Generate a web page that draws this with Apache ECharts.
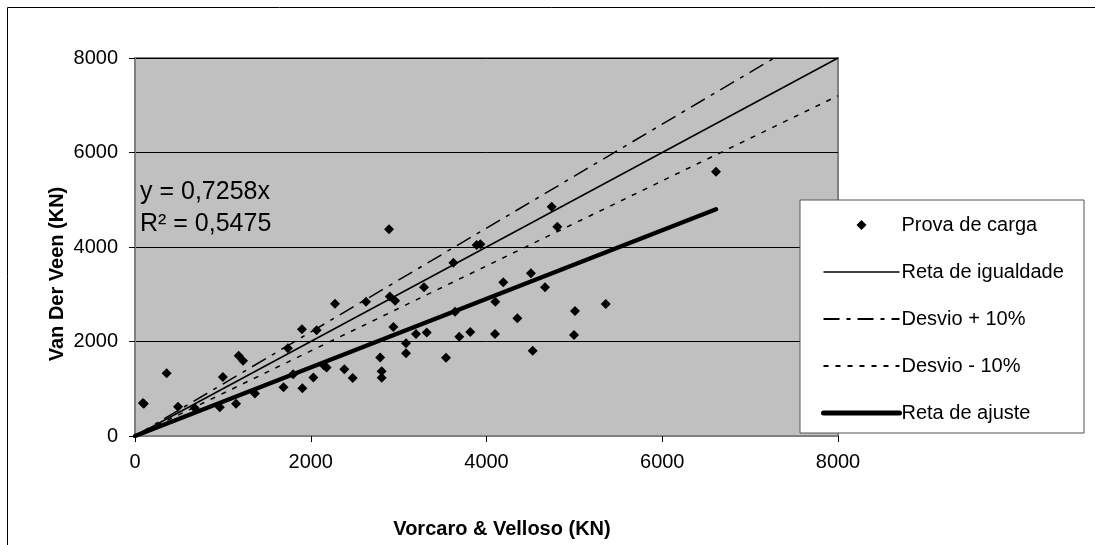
<!DOCTYPE html>
<html>
<head>
<meta charset="utf-8">
<script src="https://cdn.jsdelivr.net/npm/echarts@6/dist/echarts.min.js"></script>
<style>html,body{margin:0;padding:0;background:#fff;}#c{width:1095px;height:545px;}</style>
</head>
<body>
<div id="c"></div>
<script>
// Vorcaro & Velloso (KN) vs Van Der Veen (KN)
const vvX = [90,100,360,490,680,965,1000,1150,1180,1230,1365,1690,1740,1800,1900,1905,2067,2030,2150,2180,2276,2382,2477,2629,2790,2807,2807,2900,2960,2891,2940,3084,3084,3198,3289,3320,3539,3623,3642,3690,3815,3888,3930,4100,4097,4191,4351,4506,4526,4666,4742,4806,5007,4996,5357,6612];
const vdvY = [700,680,1330,620,590,610,1250,680,1700,1590,900,1030,1856,1305,2258,1009,2240,1238,1490,1450,2800,1411,1225,2842,1660,1370,1234,2950,2860,4374,2305,1961,1750,2160,3146,2190,1657,3667,2630,2101,2200,4042,4060,2842,2158,3252,2490,3443,1805,3146,4852,4429,2645,2137,2793,5593];
const lineEquality = [[0,0],[8000,8000]];
const linePlus10 = [[0,0],[7273,8000]];
const lineMinus10 = [[0,0],[8000,7200]];
const lineFit = [[0,0],[6612,4799]];
const xTicks = [0,2000,4000,6000,8000];
const yTicks = [0,2000,4000,6000,8000];
const seriesNames = ['Prova de carga','Reta de igualdade','Desvio + 10%','Desvio - 10%','Reta de ajuste'];

const FONT = "'Liberation Sans', Arial, sans-serif";
const chart = echarts.init(document.getElementById('c'), null, {renderer:'canvas'});
const pts = vvX.map((x,i)=>[x, vdvY[i]]);
const hideSym = {opacity:0};
chart.setOption({
  animation:false,
  backgroundColor:'#fff',
  textStyle:{fontFamily:FONT},
  grid:{left:135, top:58, width:703, height:378, show:true, backgroundColor:'#C0C0C0', borderColor:'#808080', borderWidth:2, containLabel:false},
  xAxis:{type:'value', min:xTicks[0], max:xTicks[xTicks.length-1], interval:2000,
    axisLine:{show:true, lineStyle:{color:'#808080', width:2}},
    axisTick:{show:true, length:6, lineStyle:{color:'#000', width:1}},
    axisLabel:{fontSize:20, color:'#000', margin:16, fontFamily:FONT, formatter:v=>String(v)},
    splitLine:{show:false}},
  yAxis:{type:'value', min:yTicks[0], max:yTicks[yTicks.length-1], interval:2000,
    axisLine:{show:true, lineStyle:{color:'#808080', width:2}},
    axisTick:{show:true, length:6, lineStyle:{color:'#000', width:1}},
    axisLabel:{fontSize:20, color:'#000', margin:17, fontFamily:FONT, formatter:v=>String(v)},
    splitLine:{show:true, lineStyle:{color:'#000', width:1}}},
  legend:{orient:'vertical', left:821, top:213, padding:0, itemGap:23, itemWidth:76, itemHeight:10, z:10,
    symbolKeepAspect:true,
    data:[
      {name:seriesNames[0], icon:'path://M33,5L38,0L43,5L38,10ZM0,0M76,10', itemStyle:{color:'#000', opacity:1}},
      {name:seriesNames[1], itemStyle:hideSym, lineStyle:{width:1.5}},
      {name:seriesNames[2], itemStyle:hideSym, lineStyle:{width:2}},
      {name:seriesNames[3], itemStyle:hideSym, lineStyle:{width:2}},
      {name:seriesNames[4], itemStyle:hideSym, lineStyle:{width:5}}
    ],
    textStyle:{fontSize:20, lineHeight:24, color:'#000', fontFamily:FONT, padding:[0,0,0,-3]}},
  graphic:[
    {type:'rect', z:9, shape:{x:800, y:200, width:284, height:233}, style:{fill:'#fff', stroke:'#555', lineWidth:1}},
    {type:'rect', z:0, silent:true, shape:{x:7.5, y:7.5, width:1200, height:700}, style:{fill:'none', stroke:'#000', lineWidth:1}},
    {type:'text', z:8, style:{x:140, y:192, text:'y = 0,7258x', font:"25px 'Liberation Sans', Arial", fill:'#000', verticalAlign:'middle'}},
    {type:'text', z:8, style:{x:140, y:224, text:'R² = 0,5475', font:"25px 'Liberation Sans', Arial", fill:'#000', verticalAlign:'middle'}},
    {type:'text', z:8, x:57, y:274, rotation:Math.PI/2, style:{x:0, y:0, text:'Van Der Veen (KN)', font:"bold 20px 'Liberation Sans', Arial", fill:'#000', align:'center', verticalAlign:'middle'}},
    {type:'text', z:8, style:{x:502, y:529, text:'Vorcaro & Velloso (KN)', font:"bold 20px 'Liberation Sans', Arial", fill:'#000', align:'center', verticalAlign:'middle'}}
  ],
  series:[
    {name:seriesNames[0], type:'scatter', data:pts, symbol:'diamond', symbolSize:10, itemStyle:{color:'#000', opacity:1}, z:5},
    {name:seriesNames[1], type:'line', data:lineEquality, symbol:'none', lineStyle:{color:'#000', width:1.5}, itemStyle:{color:'#000'}, z:3},
    {name:seriesNames[2], type:'line', data:linePlus10, symbol:'none', lineStyle:{color:'#000', width:1.5, type:[16,7,4,7]}, itemStyle:{color:'#000'}, z:3},
    {name:seriesNames[3], type:'line', data:lineMinus10, symbol:'none', lineStyle:{color:'#000', width:1.5, type:[5,7]}, itemStyle:{color:'#000'}, z:3},
    {name:seriesNames[4], type:'line', data:lineFit, symbol:'none', lineStyle:{color:'#000', width:4.5, cap:'round'}, itemStyle:{color:'#000'}, z:4}
  ]
});
</script>
</body>
</html>
